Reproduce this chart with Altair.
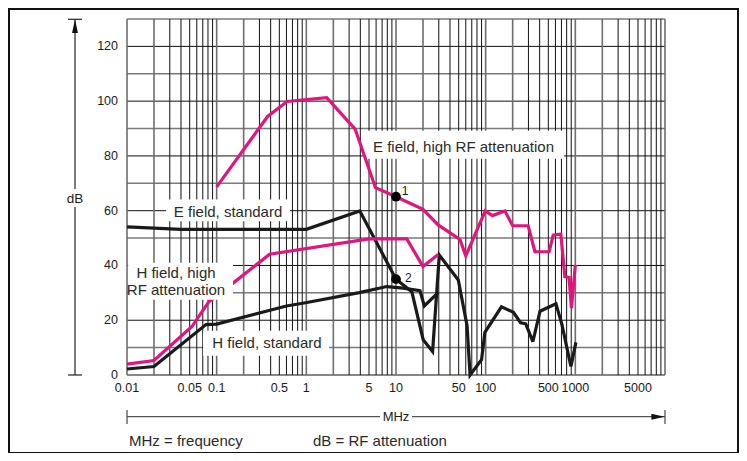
import math
import altair as alt
import pandas as pd

MAGENTA = "#e0157d"
INK = "#1a1a1a"
FONT = "Liberation Sans"

# ---------------- data ----------------
e_high_mhz = [0.1, 0.37, 0.61, 1.69, 3.5, 5.9, 10, 20, 29.5, 51.7, 60, 99, 119, 164, 200, 298, 354, 510, 566, 689, 764, 851, 905, 1000]
e_high_db = [68.7, 94.4, 99.9, 101.3, 89.8, 68.4, 65.1, 60.5, 54.8, 49.5, 43.5, 59.9, 58.2, 59.9, 54.5, 54.5, 45.0, 45.0, 51.1, 51.5, 35.9, 35.6, 24.4, 40.2]

e_std_mhz = [0.01, 0.04, 1.0, 3.95, 10, 15, 20.1, 25.6, 30.4, 49.5, 62, 67, 90, 98, 150, 204, 245, 280, 336, 404, 608, 708, 893, 1015]
e_std_db = [54.1, 53.2, 53.2, 59.9, 35.0, 30.4, 12.9, 8.6, 43.8, 34.7, 18.0, 0.0, 5.6, 15.6, 24.9, 22.9, 19.1, 18.7, 12.2, 23.3, 26.0, 18.5, 3.1, 11.9]

h_std_mhz = [0.01, 0.02, 0.076, 0.1, 0.6, 0.98, 3.9, 7.9, 12, 18.5, 20.7, 29.5]
h_std_db = [2.2, 3.1, 18.4, 18.6, 25.2, 26.4, 30.1, 32.3, 31.7, 30.8, 25.2, 30.1]

h_high_mhz = [0.01, 0.02, 0.053, 0.082, 0.16, 0.39, 5.0, 13.2, 20, 29.5]
h_high_db = [4.0, 5.3, 17.7, 26.8, 34.1, 44.1, 49.7, 49.7, 39.6, 44.0]

series_names = ["E field, high RF attenuation", "E field, standard",
                "H field, high RF attenuation", "H field, standard"]
series_colors = [MAGENTA, INK, MAGENTA, INK]

marker_mhz = [10, 10]
marker_db = [65.1, 35.0]
marker_text = ["1", "2"]
marker_text_mhz = [12.6, 13.7]
marker_text_db = [67.3, 35.6]

x_tick_values = [0.01, 0.05, 0.1, 0.5, 1, 5, 10, 50, 100, 500, 1000, 5000]
x_tick_labels = ["0.01", "0.05", "0.1", "0.5", "1", "5", "10", "50", "100", "500", "1000", "5000"]
y_tick_values = [0, 20, 40, 60, 80, 100, 120]
y_tick_labels = ["0", "20", "40", "60", "80", "100", "120"]

# curve labels (text anchor in MHz / dB) and their white boxes
label_text = ["E field, high RF attenuation", "E field, standard", "H field, high",
              "RF attenuation", "H field, standard"]
label_mhz = [56.6, 0.134, 0.0352, 0.0352, 0.364]
label_db = [83.4, 59.6, 37.25, 30.9, 11.7]

box_x1 = [4.63, 0.0272, 0.0103, 0.0704]
box_x2 = [747, 0.657, 0.152, 1.79]
box_y1 = [79.0, 56.1, 27.5, 7.05]
box_y2 = [89.2, 64.1, 41.0, 16.2]

# ---------------- tables ----------------
def curve(name, xs, ys):
    return pd.DataFrame({"series": name, "mhz": xs, "db": ys, "order": list(range(len(xs)))})

curves = pd.concat([
    curve(series_names[0], e_high_mhz, e_high_db),
    curve(series_names[1], e_std_mhz, e_std_db),
    curve(series_names[2], h_high_mhz, h_high_db),
    curve(series_names[3], h_std_mhz, h_std_db),
], ignore_index=True)

grid_x = [m * 10.0 ** e for e in range(-2, 4) for m in range(1, 10)] + [10000.0]
grid_m = [round(v / 10 ** math.floor(math.log10(v) + 1e-9)) for v in grid_x]
gx = pd.DataFrame({"mhz": grid_x, "m": grid_m})
gx_major = gx[gx["m"].isin([1, 2])].reset_index(drop=True)
gx_minor = gx[~gx["m"].isin([1, 2])].reset_index(drop=True)
gy = pd.DataFrame({"db": list(range(0, 131, 10))})
gy_major = gy[gy["db"] % 20 == 0].reset_index(drop=True)
gy_minor = gy[gy["db"] % 20 == 10].reset_index(drop=True)

boxes = pd.DataFrame({"x1": box_x1, "x2": box_x2, "y1": box_y1, "y2": box_y2})
labels = pd.DataFrame({"t": label_text, "mhz": label_mhz, "db": label_db})
markers = pd.DataFrame({"mhz": marker_mhz, "db": marker_db})
mlabels = pd.DataFrame({"t": marker_text, "mhz": marker_text_mhz, "db": marker_text_db})
xticks = pd.DataFrame({"mhz": x_tick_values, "t": x_tick_labels})
yticks = pd.DataFrame({"db": y_tick_values, "t": y_tick_labels})
one = pd.DataFrame({"a": [0]})

xs = alt.Scale(type="log", domain=[0.01, 10000])
ys = alt.Scale(domain=[0, 130])
X = lambda f: alt.X(f, scale=xs, axis=None)
Y = lambda f: alt.Y(f, scale=ys, axis=None)

# ---------------- layers ----------------
hgrid_minor = alt.Chart(gy_minor).mark_rule(color="#7a7a7a", strokeWidth=1.5).encode(y=Y("db:Q"))
hgrid_major = alt.Chart(gy_major).mark_rule(color="#111", strokeWidth=1).encode(y=Y("db:Q"))
vgrid_minor = alt.Chart(gx_minor).mark_rule(color="#111", strokeWidth=1).encode(x=X("mhz:Q"))
vgrid_major = alt.Chart(gx_major).mark_rule(color="#6e6e6e", strokeWidth=1.6).encode(x=X("mhz:Q"))

xtick_text = alt.Chart(xticks).mark_text(font=FONT, fontSize=12.5, color=INK, align="center",
                                         baseline="middle").encode(
    x=X("mhz:Q"), y=alt.value(368.5), text="t:N")
ytick_text = alt.Chart(yticks).mark_text(font=FONT, fontSize=12.5, color=INK, align="right",
                                         baseline="middle").encode(
    y=Y("db:Q"), x=alt.value(-9), text="t:N")

under_boxes = alt.Chart(boxes.iloc[[0, 1, 3]]).mark_rect(color="white").encode(
    x=X("x1:Q"), x2="x2:Q", y=Y("y1:Q"), y2="y2:Q")

lines = alt.Chart(curves).mark_line(strokeWidth=3.2, strokeMiterLimit=3).encode(
    x=X("mhz:Q"), y=Y("db:Q"),
    color=alt.Color("series:N", scale=alt.Scale(domain=series_names, range=series_colors), legend=None),
    order="order:Q")

over_box = alt.Chart(boxes.iloc[[2]]).mark_rect(color="white").encode(
    x=X("x1:Q"), x2="x2:Q", y=Y("y1:Q"), y2="y2:Q")

label_marks = alt.Chart(labels).mark_text(font=FONT, fontSize=15, color="#2a2a2a",
                                          align="center", baseline="middle").encode(
    x=X("mhz:Q"), y=Y("db:Q"), text="t:N")

marker_dots = alt.Chart(markers).mark_circle(size=95, color="#000", opacity=1).encode(
    x=X("mhz:Q"), y=Y("db:Q"))
marker_labels = alt.Chart(mlabels).mark_text(font=FONT, fontSize=12, color=INK,
                                             align="center", baseline="middle").encode(
    x=X("mhz:Q"), y=Y("db:Q"), text="t:N")

# ---- decorations in pixel space (relative to the plot origin) ----
base = alt.Chart(one)
yarrow_line = base.mark_rule(color="#222", strokeWidth=1.2).encode(
    x=alt.value(-52), y=alt.value(0), y2=alt.value(356))
yarrow_top = base.mark_rule(color="#222", strokeWidth=1.2).encode(
    x=alt.value(-59), x2=alt.value(-45), y=alt.value(0.3))
yarrow_bot = base.mark_rule(color="#222", strokeWidth=1.2).encode(
    x=alt.value(-59), x2=alt.value(-45), y=alt.value(356))
yarrow_head = base.mark_point(shape="M0,-1L0.44,1L-0.44,1Z", filled=True, size=182,
                              color="#111", opacity=1).encode(x=alt.value(-52), y=alt.value(7.3))
db_box = base.mark_rect(color="white").encode(
    x=alt.value(-62), x2=alt.value(-42), y=alt.value(170), y2=alt.value(188))
db_text = base.mark_text(font=FONT, fontSize=13.5, color=INK, align="center",
                         baseline="middle").encode(
    x=alt.value(-52), y=alt.value(180), text=alt.value("dB"))

xarrow_line = base.mark_rule(color="#555", strokeWidth=1.3).encode(
    x=alt.value(0), x2=alt.value(538), y=alt.value(397.7))
xarrow_l = base.mark_rule(color="#555", strokeWidth=1.3).encode(
    x=alt.value(0), y=alt.value(391), y2=alt.value(405))
xarrow_r = base.mark_rule(color="#555", strokeWidth=1.3).encode(
    x=alt.value(538), y=alt.value(391), y2=alt.value(405))
xarrow_head = base.mark_point(shape="M1,0L-1,-0.45L-1,0.45Z", filled=True, size=177,
                              color="#111", opacity=1).encode(x=alt.value(531), y=alt.value(397.7))
mhz_box = base.mark_rect(color="white").encode(
    x=alt.value(253), x2=alt.value(285), y=alt.value(390), y2=alt.value(405))
mhz_text = base.mark_text(font=FONT, fontSize=13, color=INK, align="center",
                          baseline="middle").encode(
    x=alt.value(269), y=alt.value(397.7), text=alt.value("MHz"))

foot1 = base.mark_text(font=FONT, fontSize=15, color="#2a2a2a", align="left",
                       baseline="middle").encode(
    x=alt.value(2), y=alt.value(421.7), text=alt.value("MHz = frequency"))
foot2 = base.mark_text(font=FONT, fontSize=15, color="#2a2a2a", align="left",
                       baseline="middle").encode(
    x=alt.value(186), y=alt.value(421.7), text=alt.value("dB = RF attenuation"))

frame = base.mark_rect(fillOpacity=0, stroke="#111", strokeWidth=2).encode(
    x=alt.value(-118), x2=alt.value(611), y=alt.value(-10), y2=alt.value(434))

chart = alt.layer(
    hgrid_minor, hgrid_major, vgrid_minor, vgrid_major, xtick_text, ytick_text,
    under_boxes, lines, over_box, label_marks, marker_dots, marker_labels,
    yarrow_line, yarrow_top, yarrow_bot, yarrow_head, db_box, db_text,
    xarrow_line, xarrow_l, xarrow_r, xarrow_head, mhz_box, mhz_text,
    foot1, foot2, frame,
).properties(
    width=538, height=356,
    padding={"left": 119, "top": 11, "right": 74, "bottom": 78},
    autosize=alt.AutoSizeParams(type="none"),
    background="white",
).configure_view(stroke=None)

chart.save("out.html", embed_options={"renderer": "svg", "actions": False})
